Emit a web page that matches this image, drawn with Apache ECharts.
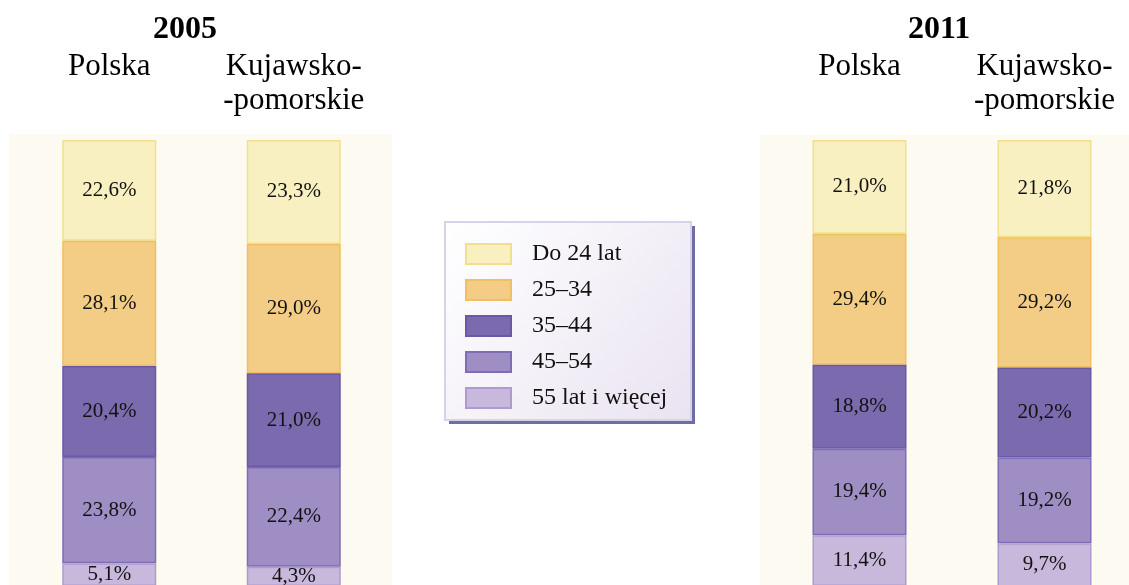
<!DOCTYPE html>
<html>
<head>
<meta charset="utf-8">
<script src="https://cdn.jsdelivr.net/npm/echarts@6/dist/echarts.min.js"></script>
<style>
  html, body { margin: 0; padding: 0; background: #fff; }
  #chart { width: 1129px; height: 585px; }
</style>
</head>
<body>
<div id="chart"></div>
<script>
// dane
const years = ['2005', '2011'];
const regions = ['Polska', 'Kujawsko-\n-pomorskie'];
const ageGroups = ['Do 24 lat', '25–34', '35–44', '45–54', '55 lat i więcej'];
// udział grup wieku [Polska, Kujawsko-pomorskie]
const values2005 = [
  [22.6, 23.3],
  [28.1, 29.0],
  [20.4, 21.0],
  [23.8, 22.4],
  [5.1, 4.3],
];
const values2011 = [
  [21.0, 21.8],
  [29.4, 29.2],
  [18.8, 20.2],
  [19.4, 19.2],
  [11.4, 9.7],
];

const fills = ['#f8f0c0', '#f3cc85', '#7c6aae', '#9e8ec4', '#c8b9dc'];
const borders = ['#f0e08e', '#efbf62', '#6a58a6', '#7e6cb4', '#ad9bd0'];

const chart = echarts.init(document.getElementById('chart'));

const fmt = (v) => v.toFixed(1).replace('.', ',') + '%';

const series = [];
[values2005, values2011].forEach((vals, gi) => {
  ageGroups.forEach((name, i) => {
    series.push({
      name: name,
      type: 'bar',
      stack: 'y' + gi,
      xAxisIndex: gi,
      yAxisIndex: gi,
      barWidth: 94,
      data: vals[i],
      itemStyle: { color: fills[i], borderColor: borders[i], borderWidth: 1.5 },
      label: {
        show: true,
        position: 'inside',
        formatter: (p) => fmt(p.value),
        color: '#111',
        fontFamily: 'Liberation Serif',
        fontSize: 21,
      },
    });
  });
});

const xAxisBase = (gi) => ({
  type: 'category',
  gridIndex: gi,
  position: 'top',
  data: regions,
  axisLine: { show: false },
  axisTick: { show: false },
  axisLabel: {
    margin: 90,
    verticalAlign: 'top',
    lineHeight: 34,
    color: '#000',
    fontFamily: 'Liberation Serif',
    fontSize: 31,
    hideOverlap: false,
  },
});
const yAxisBase = (gi) => ({
  type: 'value',
  gridIndex: gi,
  min: 0,
  max: 100,
  inverse: true,
  show: false,
});

const titleStyle = { fontFamily: 'Liberation Serif', fontSize: 32, fontWeight: 'bold', color: '#000' };

const option = {
  animation: false,
  backgroundColor: '#fff',
  title: [
    { text: years[0], left: 153, top: 14, padding: 0, textStyle: titleStyle },
    { text: years[1], left: 908, top: 14, padding: 0, textStyle: titleStyle },
  ],
  graphic: [
    // tła paneli
    { type: 'rect', z: -1, shape: { x: 9, y: 134, width: 383, height: 460 }, style: { fill: '#fdfaf2' } },
    { type: 'rect', z: -1, shape: { x: 760, y: 135, width: 380, height: 460 }, style: { fill: '#fdfaf2' } },
    // ramka legendy z cieniem
    { type: 'rect', z: 0, shape: { x: 449, y: 226, width: 246, height: 198 }, style: { fill: '#6f6ea3' } },
    {
      type: 'rect', z: 0,
      shape: { x: 445, y: 222, width: 246, height: 198 },
      style: {
        fill: new echarts.graphic.LinearGradient(0, 0, 1, 1, [
          { offset: 0, color: '#ffffff' },
          { offset: 1, color: '#e9e3f1' },
        ]),
        stroke: '#d6d2ea',
        lineWidth: 2,
      },
    },
  ],
  legend: {
    data: ageGroups,
    orient: 'vertical',
    left: 445,
    top: 222,
    padding: [20, 22, 16, 20],
    itemWidth: 45,
    itemHeight: 20,
    itemGap: 12,
    icon: 'rect',
    selectedMode: false,
    z: 5,
    textStyle: { fontFamily: 'Liberation Serif', fontSize: 24, color: '#111', padding: [0, 0, 0, 16] },
  },
  grid: [
    { left: 17, width: 369, top: 140, bottom: -1, outerBoundsMode: 'none' },
    { left: 767, width: 370, top: 140, bottom: -1, outerBoundsMode: 'none' },
  ],
  xAxis: [xAxisBase(0), xAxisBase(1)],
  yAxis: [yAxisBase(0), yAxisBase(1)],
  series: series,
};

chart.setOption(option);

window.addEventListener('resize', function () {
  chart.resize();
});
</script>
</body>
</html>
